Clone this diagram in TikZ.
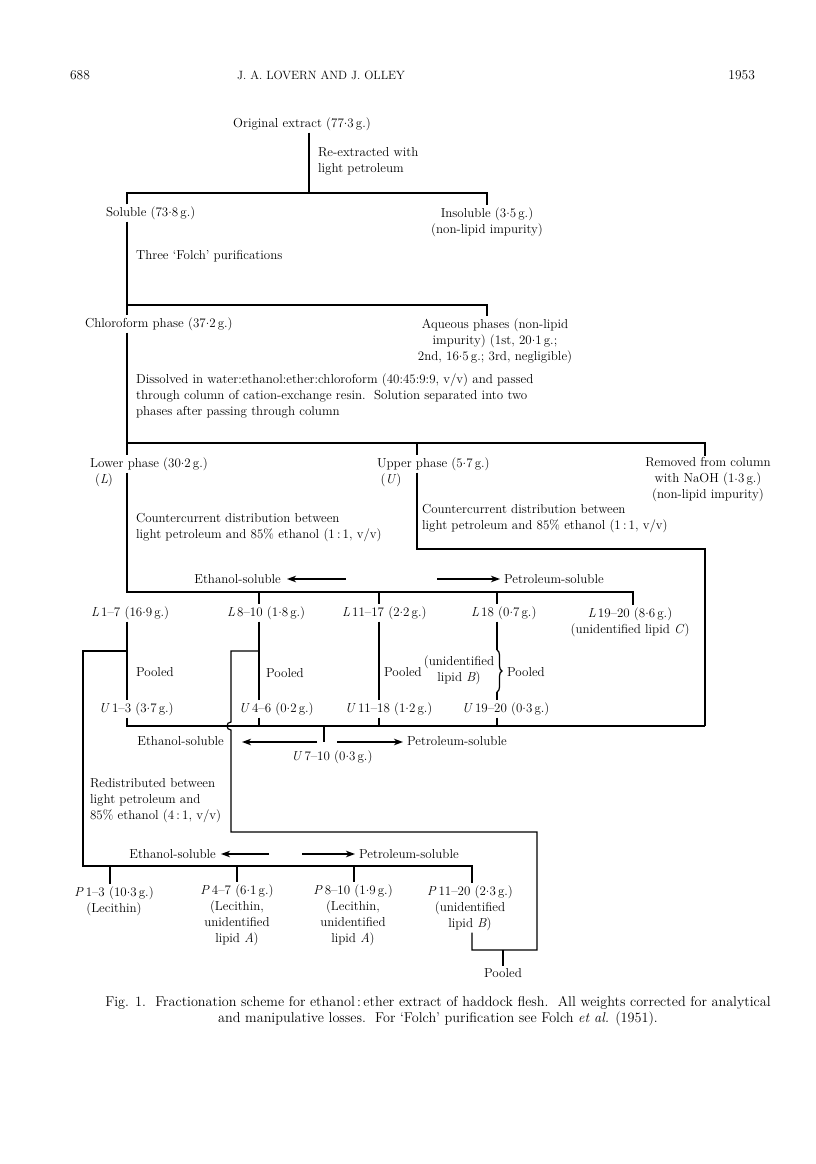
\documentclass[tikz,border=0pt]{standalone}
\usepackage{fontspec}
\usetikzlibrary{arrows.meta,decorations.pathreplacing}
\newcommand\dpt{\raisebox{0.5ex}{.}}

\begin{document}
\begin{tikzpicture}[x=1pt,y=-1pt,line width=1.2pt,
  txt/.style={font=\fontsize{13}{16}\selectfont,inner sep=1.5pt},
  ml/.style={txt,align=left},
  mc/.style={txt,align=center},
  arr/.style={-{Stealth[length=9pt,width=6.5pt,inset=2.5pt]}}]
  \useasboundingbox (0,0) rectangle (816,1164);

  % running head
  \node[txt,font=\fontsize{13.5}{16}\selectfont,anchor=west] (pg) at (68,75) {688};
  \node[font=\fontsize{12}{15}\selectfont] (hd) at (321,75) {J. A. LOVERN AND J. OLLEY};
  \node[txt,font=\fontsize{13.5}{16}\selectfont,anchor=east] (yr) at (757,75) {\oldstylenums{1953}};

  % first steps
  \node[txt] (orig) at (302,124) {Original extract (77\dpt3\,g.)};
  \node[ml,anchor=west] (reex) at (316,161) {Re-extracted with\\light petroleum};
  \node[txt,anchor=west] (sol) at (104,213) {Soluble (73\dpt8\,g.)};
  \node[mc] (insol) at (487,222) {Insoluble (3\dpt5\,g.)\\(non-lipid impurity)};
  \node[txt,anchor=west] (folch) at (134,256) {Three ‘Folch’ purifications};
  \node[txt,anchor=west] (chl) at (83,324) {Chloroform phase (37\dpt2\,g.)};
  \node[mc] (aq) at (495,341) {Aqueous phases (non-lipid\\impurity) (1st, 20\dpt1\,g.;\\2nd, 16\dpt5\,g.; 3rd, negligible)};
  \node[ml,anchor=west] (diss) at (134,396) {Dissolved in water:ethanol:ether:chloroform (40:45:9:9, v/v) and passed\\through column of cation-exchange resin.\ \ Solution separated into two\\phases after passing through column};

  \coordinate (b1) at (309,193);
  \coordinate (b1l) at (127,193);
  \coordinate (b1r) at (487,193);
  \coordinate (b2l) at (127,305);
  \coordinate (b2r) at (487,305);
  \coordinate (b3l) at (127,443);
  \coordinate (b3m) at (417,443);
  \coordinate (b3r) at (705,443);
  \draw (orig.south -| b1) -- (b1);
  \draw (sol.north -| b1l) -- (b1l) -- (b1r) -- (insol.north -| b1r);
  \draw (sol.south -| b2l) -- (b2l) -- (b2r) -- (aq.north -| b2r);
  \draw (b2l) -- (chl.north -| b2l);

  % column
  \node[txt,anchor=west] (low) at (88,464) {Lower phase (30\dpt2\,g.)};
  \node[txt] (lowL) at (104,480) {(\textit{L})};
  \node[txt,anchor=west] (upp) at (375,464) {Upper phase (5\dpt7\,g.)};
  \node[txt] (uppU) at (391,480) {(\textit{U})};
  \node[mc] (rem) at (708,480) {Removed from column\\with NaOH (1\dpt3\,g.)\\(non-lipid impurity)};
  \node[ml,anchor=west] (cc1) at (134,528) {Countercurrent distribution between\\light petroleum and 85\% ethanol (1\,:\,1, v/v)};
  \node[ml,anchor=west] (cc2) at (420,519) {Countercurrent distribution between\\light petroleum and 85\% ethanol (1\,:\,1, v/v)};
  \draw (chl.south -| b3l) -- (b3l) -- (b3r) -- (rem.north -| b3r);
  \draw (b3l) -- (low.north -| b3l);
  \draw (b3m) -- (upp.north -| b3m);

  \coordinate (uc1) at (417,549);
  \coordinate (uc2) at (705,549);
  \coordinate (uc3) at (705,726);
  \draw (upp.south -| uc1) -- (uc1) -- (uc2) -- (uc3);

  % L fractions
  \node[txt,anchor=east] (es1) at (283,579) {Ethanol-soluble};
  \node[txt,anchor=west] (ps1) at (502,579) {Petroleum-soluble};
  \coordinate (a1) at (346,579);
  \coordinate (a2) at (437,579);
  \draw[arr,shorten >=4pt] (a1) -- (a1 -| es1.east);
  \draw[arr,shorten >=2pt] (a2) -- (a2 -| ps1.west);

  \coordinate (t1) at (127,592);
  \coordinate (t2) at (259,592);
  \coordinate (t3) at (379,592);
  \coordinate (t4) at (497,592);
  \coordinate (t5) at (633,592);
  \node[txt,anchor=west] (l1) at (89,613) {\textit{L}\,1–7 (16\dpt9\,g.)};
  \node[txt,anchor=west] (l2) at (225,613) {\textit{L}\,8–10 (1\dpt8\,g.)};
  \node[txt,anchor=west] (l3) at (340,613) {\textit{L}\,11–17 (2\dpt2\,g.)};
  \node[txt,anchor=west] (l4) at (469,613) {\textit{L}\,18 (0\dpt7\,g.)};
  \node[mc] (l5) at (630,622) {\textit{L}\,19–20 (8\dpt6\,g.)\\(unidentified lipid \textit{C})};
  \draw (low.south -| t1) -- (t1) -- (t5) -- (l5.north -| t5);
  \foreach \i in {2,3,4} \draw (t\i) -- (l\i.north -| t\i);

  \node[txt,anchor=west] (pl1) at (134,672) {Pooled};
  \node[txt,anchor=west] (pl2) at (264,673) {Pooled};
  \node[txt,anchor=west] (pl3) at (382,672) {Pooled};
  \node[txt,anchor=west] (pl4) at (505,672) {Pooled};
  \node[mc] (libB) at (459,670) {(unidentified\\lipid \textit{B})};

  % U fractions
  \node[txt,anchor=west] (u1) at (97,709) {\textit{U}\,1–3 (3\dpt7\,g.)};
  \node[txt,anchor=west] (u2) at (237,709) {\textit{U}\,4–6 (0\dpt2\,g.)};
  \node[txt,anchor=west] (u3) at (343,709) {\textit{U}\,11–18 (1\dpt2\,g.)};
  \node[txt,anchor=west] (u4) at (460,709) {\textit{U}\,19–20 (0\dpt3\,g.)};
  \node[txt] (u7) at (332,757) {\textit{U}\,7–10 (0\dpt3\,g.)};
  \foreach \i in {1,2,3} \draw (l\i.south -| t\i) -- (u\i.north -| t\i);
  \coordinate (br1) at (497,650);
  \coordinate (br2) at (497,692);
  \draw (l4.south -| t4) -- (br1);
  \draw[decorate,decoration={brace,amplitude=5pt}] (br1) -- (br2);
  \draw (br2) -- (u4.north -| t4);
  \draw (u1.south -| t1) |- (uc3);
  \foreach \i in {2,3,4} \draw (u\i.south -| t\i) -- (t\i |- uc3);
  \coordinate (t7) at (324,726);
  \draw[shorten >=6pt] (t7) -- (u7.north -| t7);

  \node[txt,anchor=east] (es2) at (226,741) {Ethanol-soluble};
  \node[txt,anchor=west] (ps2) at (405,741) {Petroleum-soluble};
  \coordinate (a3) at (317,742);
  \coordinate (a3e) at (242,742);
  \coordinate (a4) at (337,742);
  \draw[arr] (a3) -- (a3e);
  \draw[arr,shorten >=2pt] (a4) -- (a4 -| ps2.west);

  \node[ml,anchor=west] (redis) at (88,801) {Redistributed between\\light petroleum and\\85\% ethanol (4\,:\,1, v/v)};

  % P fractions
  \node[txt,anchor=east] (es3) at (218,854) {Ethanol-soluble};
  \node[txt,anchor=west] (ps3) at (357,854) {Petroleum-soluble};
  \coordinate (a5) at (269,854);
  \coordinate (a6) at (302,854);
  \draw[arr,shorten >=3pt] (a5) -- (a5 -| es3.east);
  \draw[arr,shorten >=2pt] (a6) -- (a6 -| ps3.west);

  \node[mc] (p1) at (114,901) {\textit{P}\,1–3 (10\dpt3\,g.)\\(Lecithin)};
  \node[mc] (p2) at (237,915) {\textit{P}\,4–7 (6\dpt1\,g.)\\(Lecithin,\\unidentified\\lipid \textit{A})};
  \node[mc] (p3) at (353,915) {\textit{P}\,8–10 (1\dpt9\,g.)\\(Lecithin,\\unidentified\\lipid \textit{A})};
  \node[mc] (p4) at (470,908) {\textit{P}\,11–20 (2\dpt3\,g.)\\(unidentified\\lipid \textit{B})};
  \node[txt] (pool) at (503,973) {Pooled};

  \coordinate (j1) at (127,651);
  \coordinate (j2) at (259,651);
  \coordinate (k1) at (83,651);
  \coordinate (k2) at (83,866);
  \coordinate (b5r) at (472,866);
  \draw (j1) -- (k1) -- (k2) -- (b5r) -- (p4.north -| b5r);
  \coordinate (s1) at (110,866);
  \coordinate (s2) at (237,866);
  \coordinate (s3) at (354,866);
  \foreach \i in {1,2,3} \draw (s\i) -- (p\i.north -| s\i);

  \coordinate (m1) at (231,651);
  \coordinate (m2) at (231,722);
  \coordinate (m3) at (231,730);
  \coordinate (m4) at (231,832);
  \coordinate (m5) at (537,832);
  \coordinate (m6) at (537,950);
  \coordinate (m7) at (472,950);
  \coordinate (m8) at (503,950);
  \draw (j2) -- (m1) -- (m2) .. controls (225.7,722) and (225.7,730) .. (m3)
    -- (m4) -- (m5) -- (m6) -- (m7) -- (p4.south -| m7);
  \draw (m8) -- (pool.north -| m8);

  % caption
  \node[mc,font=\fontsize{14.2}{16}\selectfont] (cap) at (438,1011) {Fig. 1.\ \ Fractionation scheme for ethanol\,:\,ether extract of haddock flesh.\ \ All weights corrected for analytical\\and manipulative losses.\ \ For ‘Folch’ purification see Folch \textit{et al.} (1951).};
\end{tikzpicture}
\end{document}
